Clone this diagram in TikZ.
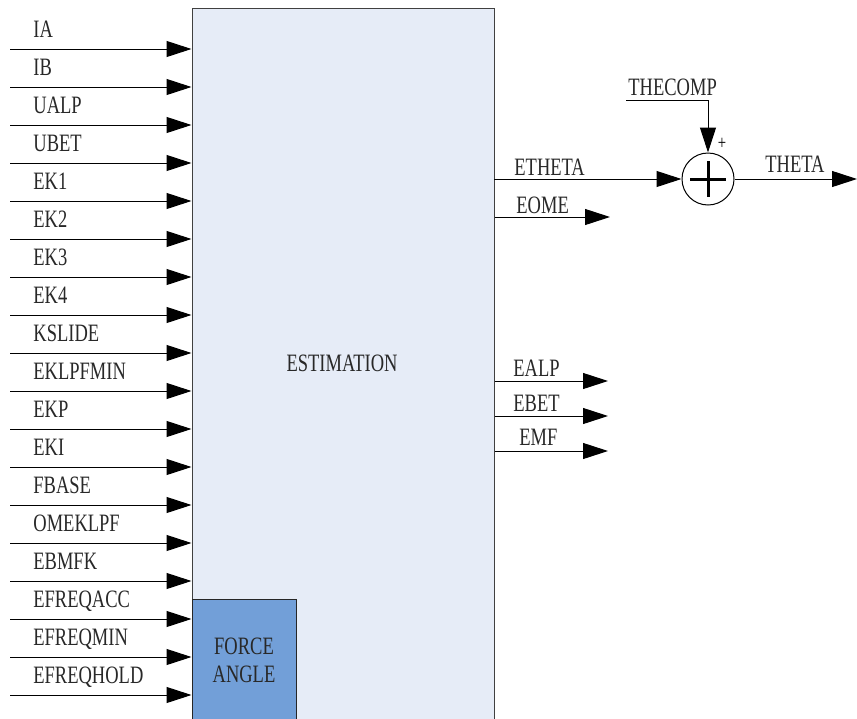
\documentclass[tikz,border=0pt]{standalone}
\usepackage{fontspec}
\setmainfont{Liberation Serif}[FakeStretch=0.74]
\usepackage{xcolor}
\usetikzlibrary{arrows.meta, positioning, calc}
\definecolor{EstFill}{RGB}{230, 236, 247}
\definecolor{ForceFill}{RGB}{114, 159, 216}
\definecolor{LabelGray}{RGB}{40, 40, 40}

\tikzset{
  sig/.style={draw=black, line width=0.5pt, -{Triangle[length=12.5pt, width=8pt]}},
  siglabel/.style={anchor=base west, inner sep=0pt, text=LabelGray,
                   font=\fontsize{12.5}{14}\selectfont},
  blockbox/.style={draw=black!75, line width=0.5pt, inner sep=0pt, text=LabelGray,
                   font=\fontsize{12.5}{14}\selectfont, align=center}
}

\begin{document}
\begin{tikzpicture}[x=0.5pt, y=-0.5pt]
  \useasboundingbox (0,0) rectangle (857,718);

  % estimation block
  \node[blockbox, fill=EstFill, minimum width=151pt, minimum height=357pt]
        (estim) at (343,365) {};
  \node[siglabel, anchor=center] (estimlabel) at (342,363) {ESTIMATION};
  \node[blockbox, fill=ForceFill, draw=black!85, minimum width=52pt, minimum height=61.5pt]
        (force) at (244,660.5) {FORCE\\[0pt]ANGLE};

  % inputs
  \foreach \lab [count=\i] in {IA, IB, UALP, UBET, EK1, EK2, EK3, EK4, KSLIDE,
      EKLPFMIN, EKP, EKI, FBASE, OMEKLPF, EBMFK, EFREQACC, EFREQMIN, EFREQHOLD} {
    \coordinate (in\i) at (10,{49+38*(\i-1)});
    \node[siglabel] (inlab\i) at (33,{37+38*(\i-1)}) {\lab};
    \draw[sig] (in\i) -- (in\i -| estim.west);
  }

  % summing junction
  \node[draw=black, line width=0.5pt, circle, minimum size=26pt, inner sep=0pt]
        (sum) at (708,179) {};
  \draw[line width=1.5pt] (sum.center) ++(-18,0) -- ++(36,0);
  \draw[line width=1.5pt] (sum.center) ++(0,-18) -- ++(0,36);
  \node[inner sep=0pt, font=\fontsize{10}{11}\selectfont] (plus) at (722,144) {+};

  \coordinate (ethetastart) at (494,179);
  \coordinate (thecomp) at (626,100);
  \coordinate (thetaend) at (857,179);
  \draw[sig] (ethetastart) -- (sum.west);
  \node[siglabel] (ethetalab) at (514,175) {ETHETA};
  \draw[sig] (thecomp) -| (sum.north);
  \node[siglabel] (thecomplab) at (628,95) {THECOMP};
  \draw[sig] (sum.east) -- (thetaend);
  \node[siglabel] (thetalab) at (765,172) {THETA};

  % outputs
  \coordinate (eome) at (610,217);
  \draw[sig] (eome -| estim.east) -- (eome);
  \node[siglabel] (eomelab) at (516,213) {EOME};

  \coordinate (ealp) at (608,381);
  \coordinate (ebet) at (608,416);
  \coordinate (emf) at (608,451);
  \draw[sig] (ealp -| estim.east) -- (ealp);
  \draw[sig] (ebet -| estim.east) -- (ebet);
  \draw[sig] (emf -| estim.east) -- (emf);
  \node[siglabel] (ealplab) at (513,376) {EALP};
  \node[siglabel] (ebetlab) at (513,411) {EBET};
  \node[siglabel] (emflab) at (519,445) {EMF};
\end{tikzpicture}
\end{document}
